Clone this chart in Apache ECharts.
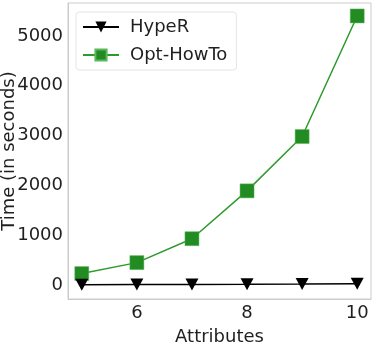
<!DOCTYPE html>
<html lang="en">
<head>
    <meta charset="utf-8">
    <title>Attributes vs Time</title>
    <script src="https://cdn.jsdelivr.net/npm/echarts@6.0.0/dist/echarts.min.js"></script>
    <style>* { margin: 0; padding: 0; }
    #chart-container { width: 374px; height: 346px; }</style>
</head>
<body>
    <div id="chart-container"></div>
    <script>
      var attributes = [5, 6, 7, 8, 9, 10];
      var hyperTimes = [8, 10, 12, 15, 20, 28];
      var howToTimes = [230, 450, 930, 1890, 2980, 5400];
      var xTicks = [6, 8, 10];
      var yTicks = [0, 1000, 2000, 3000, 4000, 5000];

      var font = 'DejaVu Sans';
      var txt = '#1f1f1f';
      var fs = 18;

      function pairs(ys) {
          return attributes.map(function (x, i) { return [x, ys[i]]; });
      }

      var myChart = echarts.init(document.getElementById('chart-container'));
      myChart.setOption({
          animation: false,
          grid: { left: 68, right: 3, top: 3, bottom: 47, outerBoundsMode: 'none', containLabel: false },
          legend: {
              orient: 'vertical',
              left: 76, top: 12,
              padding: [6, 9, 6, 6],
              itemGap: 10,
              itemWidth: 36, itemHeight: 14,
              backgroundColor: '#fff',
              borderColor: '#e4e4e4', borderWidth: 1, borderRadius: 3,
              textStyle: { fontFamily: font, fontSize: fs, color: txt, padding: [0, 0, 0, 6] },
              data: ['HypeR', 'Opt-HowTo']
          },
          xAxis: {
              type: 'value', min: 4.75, max: 10.25,
              name: 'Attributes', nameLocation: 'middle', nameGap: 29, nameMoveOverlap: false,
              nameTextStyle: { fontFamily: font, fontSize: fs, color: txt },
              axisLine: { show: true, onZero: false, lineStyle: { color: '#cccccc', width: 1 } },
              axisTick: { show: false },
              splitLine: { show: false },
              axisLabel: { customValues: xTicks, fontFamily: font, fontSize: fs, color: txt, margin: 5,
                           formatter: function (v) { return String(v); } }
          },
          yAxis: {
              type: 'value', min: -280, max: 5660,
              name: 'Time (in seconds)', nameLocation: 'middle', nameGap: 50, nameMoveOverlap: false,
              nameTextStyle: { fontFamily: font, fontSize: fs, color: txt },
              axisLine: { show: true, onZero: false, lineStyle: { color: '#cccccc', width: 1 } },
              axisTick: { show: false },
              splitLine: { show: false },
              axisLabel: { customValues: yTicks, fontFamily: font, fontSize: fs, color: txt, margin: 5,
                           formatter: function (v) { return String(v); } }
          },
          series: [
              {
                  name: 'HypeR', type: 'line', data: pairs(hyperTimes),
                  symbol: 'triangle', symbolRotate: 180, symbolSize: [13, 12],
                  itemStyle: { color: '#000000' },
                  lineStyle: { color: '#000000', width: 1.5 }, z: 3
              },
              {
                  name: 'Opt-HowTo', type: 'line', data: pairs(howToTimes),
                  symbol: 'rect', symbolSize: 14,
                  itemStyle: { color: '#228b22', borderColor: '#5cb85c', borderWidth: 0.5 },
                  lineStyle: { color: '#2e9a2e', width: 1.5 }, z: 2
              }
          ],
          // frame on top and right like the original
          graphic: [{
              type: 'rect', silent: true,
              shape: { x: 68, y: 3, width: 303, height: 296 },
              style: { fill: 'none', stroke: '#cccccc', lineWidth: 1 }
          }]
      });
  </script>
</body>
</html>
